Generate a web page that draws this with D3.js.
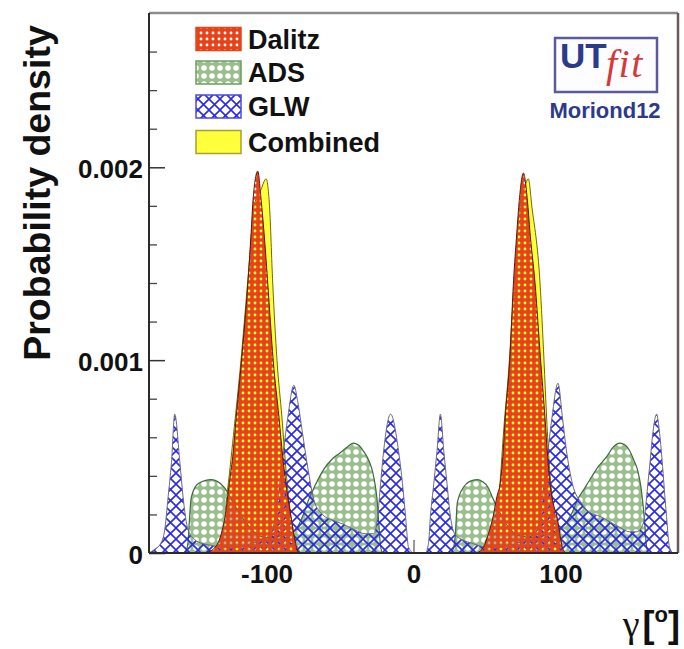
<!DOCTYPE html>
<html><head><meta charset="utf-8">
<script src="https://cdn.jsdelivr.net/npm/d3@7"></script>
<style>
html,body{margin:0;padding:0;background:#fff;}
svg{display:block;}
</style></head><body>
<svg id="chart" width="684" height="649"></svg>
<script>
// ---------------- data ----------------
const seriesNames = ["Dalitz", "ADS", "GLW", "Combined"];

const combined = [
  [-137,0],[-131,0.00008],[-126.5,0.00033],[-122,0.00065],[-118,0.00095],[-114,0.0013],
  [-111.3,0.00155],[-108.5,0.0018],[-104,0.00188],[-100.3,0.00194],[-98,0.0018],[-95.8,0.0014],
  [-92.9,0.001],[-89.5,0.0007],[-87,0.00045],[-84,0.00022],[-80,0.00006],[-76,0],
  [44,0],[50,0.00008],[54.5,0.00017],[58.5,0.00033],[61.5,0.00065],[64.8,0.00095],[67.7,0.0013],
  [70,0.00155],[72.3,0.0018],[75,0.00188],[78.2,0.00194],[80.5,0.0018],[86.1,0.0014],[88.8,0.001],
  [90.6,0.0007],[92.5,0.00045],[95.5,0.00022],[99,0.00006],[103,0]
];

const dalitz = [
  [-142,0],[-136.3,0.00002],[-130.8,0.0001],[-128,0.0002],[-125.4,0.00036],[-123,0.0005],
  [-120.7,0.0007],[-117,0.001],[-112.7,0.0014],[-110.5,0.00166],[-109.2,0.00183],[-106,0.00198],
  [-103.7,0.00183],[-101.7,0.00166],[-99.2,0.0014],[-95.5,0.001],[-91.5,0.0007],[-89,0.0005],
  [-86.8,0.00036],[-83.4,0.00019],[-80.5,0.00006],[-78,0],
  [42,0],[46.8,0.00002],[51,0.0001],[54.2,0.00019],[57,0.0003],[59,0.00036],[60.8,0.0005],
  [62.4,0.0007],[65.5,0.001],[68,0.0014],[70.3,0.00166],[72,0.00183],[74.8,0.00197],
  [77.5,0.00183],[79.3,0.00166],[82.7,0.0014],[86.5,0.001],[89.5,0.0007],[91.3,0.0005],
  [92.9,0.00036],[95,0.00026],[97.6,0.00019],[100,0.00008],[101.7,0.00002],[104,0]
];

const ads = [
  [-180,0],[-157,0],[-155,0.00001],[-153.5,0.00005],[-152.5,0.00017],[-151.2,0.00029],
  [-146.4,0.00036],[-137.6,0.00038],[-128.8,0.00034],[-124,0.00028],[-118,0.0002],[-110,0.00012],
  [-100,0.00008],[-90,0.00009],[-82,0.00011],[-78.6,0.00014],[-75,0.0002],[-72.2,0.00026],
  [-67,0.00035],[-61.4,0.00043],[-55,0.00049],[-49.8,0.00052],[-45,0.00055],[-41,0.00057],
  [-37.5,0.00056],[-34.2,0.00053],[-31,0.00049],[-28.1,0.00043],[-26,0.00035],[-24.7,0.00027],
  [-23.6,0.00015],[-22.5,0.00004],[-21,0],
  [25,0],[27,0.00002],[28.5,0.0001],[29.8,0.00026],[33.9,0.00034],[38,0.00037],[43.4,0.00038],
  [47,0.00037],[50.8,0.00034],[53.6,0.00029],[58,0.00022],[64,0.00014],[72,0.00009],[82,0.00008],
  [92,0.0001],[100,0.00013],[104,0.00016],[108,0.00021],[111.2,0.00027],[116,0.00033],
  [120,0.00038],[126,0.00045],[131.5,0.0005],[136,0.00055],[140.3,0.00057],[144,0.00056],
  [147.1,0.00053],[150,0.00048],[152.5,0.00043],[155,0.00033],[155.9,0.00027],[157.3,0.00016],
  [158.5,0.00004],[160,0],[180,0]
];

const glw = [
  [-180,0],[-176,0.00002],[-172,0.00005],[-169.3,0.00012],[-167,0.00029],[-164.7,0.00047],
  [-162.5,0.00072],[-159,0.00047],[-156.8,0.00029],[-153.4,0.00012],[-149,0.00007],[-144,0.00005],
  [-138,0.00004],[-130,0.00003],[-120,0.00003],[-110,0.00005],[-100,0.00008],[-96,0.00012],
  [-92,0.0003],[-88.5,0.00053],[-85.6,0.0007],[-81.4,0.00087],[-78.9,0.00079],[-75.5,0.00062],
  [-72.1,0.00045],[-67.6,0.00027],[-62,0.0002],[-55,0.00017],[-48,0.00015],[-40,0.00012],
  [-33,0.0001],[-27,0.0001],[-24.4,0.00019],[-22.4,0.00036],[-20.3,0.00053],[-15.6,0.00072],
  [-10.2,0.00053],[-7.5,0.00036],[-5.4,0.00019],[-3.4,0.00003],[0,0],
  [8,0],[10.2,0.00005],[11.5,0.00019],[13.8,0.00036],[16,0.00053],[18.3,0.00072],[20.6,0.00053],
  [22.8,0.00036],[25.1,0.00019],[28,0.0001],[33,0.00007],[40,0.00005],[50,0.00003],[60,0.00003],
  [70,0.00005],[78,0.00008],[84,0.00012],[88,0.0003],[91.5,0.00053],[94.2,0.0007],[98.3,0.00088],
  [101.4,0.0007],[104.1,0.00053],[108.1,0.00036],[114.2,0.00026],[120,0.00021],[127,0.00019],
  [134,0.00016],[141,0.00013],[147,0.00011],[152,0.00011],[155,0.00013],[157.3,0.00019],
  [159,0.00032],[160.7,0.00045],[163,0.00063],[165.4,0.00072],[167.5,0.00062],[169.5,0.00045],
  [171,0.0003],[172.2,0.00019],[174.2,0.00003],[177,0],[180,0]
];

const yTickValues = [0, 0.001, 0.002];
const yTickLabels = ["0", "0.001", "0.002"];
const yMinorTicks = [0.0002,0.0004,0.0006,0.0008,0.0012,0.0014,0.0016,0.0018,0.0022,0.0024,0.0026];
const xTickValues = [-100, 0, 100];
const xTickLabels = ["-100", "0", "100"];
const yTitle = "Probability density";
const logoText = ["UT", "fit", "Moriond12"];

// ---------------- chart ----------------
const svg = d3.select("#chart");
const L = 149, R = 678, T = 13, B = 553;
const x = d3.scaleLinear().domain([-180, 180]).range([L, R]);
const y = d3.scaleLinear().domain([0, 0.0028]).range([B, T]);
const FONT = "'Liberation Sans', Arial, Helvetica, sans-serif";

const defs = svg.append("defs");
defs.append("clipPath").attr("id", "plotclip")
  .append("rect").attr("x", L).attr("y", T).attr("width", R - L).attr("height", B - T);

// Dalitz: red-orange with round holes
const pD = defs.append("pattern").attr("id", "patDalitz").attr("patternUnits", "userSpaceOnUse")
  .attr("width", 6).attr("height", 6);
pD.append("path").attr("fill-rule", "evenodd").attr("fill", "#e5441a")
  .attr("d", "M0 0H6V6H0Z M3 1.6 A1.4 1.4 0 1 0 3 4.4 A1.4 1.4 0 1 0 3 1.6Z");
// ADS: light green with larger holes
const pA = defs.append("pattern").attr("id", "patADS").attr("patternUnits", "userSpaceOnUse")
  .attr("width", 8).attr("height", 8);
pA.append("path").attr("fill-rule", "evenodd").attr("fill", "#98bf8c")
  .attr("d", "M0 0H8V8H0Z M4 1.2 A2.8 2.8 0 1 0 4 6.8 A2.8 2.8 0 1 0 4 1.2Z");
// GLW: blue diagonal crosshatch
const pG = defs.append("pattern").attr("id", "patGLW").attr("patternUnits", "userSpaceOnUse")
  .attr("width", 11).attr("height", 11);
pG.append("path").attr("stroke", "#2a2ae6").attr("stroke-width", 1.6).attr("fill", "none")
  .attr("d", "M-1 -1L12 12M12 -1L-1 12");

// x ticks (under fills)
const xAxis = d3.axisBottom(x).tickValues(xTickValues)
  .tickFormat((d, i) => xTickLabels[i]).tickSizeInner(-13).tickSizeOuter(0).tickPadding(12);
const gx = svg.append("g").attr("transform", `translate(0,${B})`).call(xAxis);
gx.select(".domain").remove();
gx.selectAll(".tick line").attr("stroke", "#9a9a9a").attr("stroke-width", 2);
gx.selectAll("text").attr("font-family", FONT).attr("font-weight", "bold")
  .attr("font-size", 26).attr("fill", "#111");

const area = d3.area().x(d => x(d[0])).y0(y(0)).y1(d => y(d[1])).curve(d3.curveMonotoneX);
const line = d3.line().x(d => x(d[0])).y(d => y(d[1])).curve(d3.curveMonotoneX);

const plot = svg.append("g").attr("clip-path", "url(#plotclip)");
const layers = [
  {data: combined, fill: "#ffff3c", stroke: "#6f6a00", sw: 1},
  {data: ads, fill: "url(#patADS)", stroke: "#3d6b3a", sw: 1.2},
  {data: glw, fill: "url(#patGLW)", stroke: "#6a6a7a", sw: 1},
  {data: dalitz, fill: "url(#patDalitz)", stroke: "#5a1808", sw: 1}
];
layers.forEach(l => {
  plot.append("path").datum(l.data).attr("d", area).attr("fill", l.fill);
  plot.append("path").datum(l.data).attr("d", line).attr("fill", "none")
    .attr("stroke", l.stroke).attr("stroke-width", l.sw);
});

// y axis
const yAxis = d3.axisLeft(y).tickValues(yTickValues)
  .tickFormat((d, i) => yTickLabels[i]).tickSizeInner(-16).tickSizeOuter(0).tickPadding(6);
const gy = svg.append("g").attr("transform", `translate(${L},0)`).call(yAxis);
gy.select(".domain").remove();
gy.selectAll(".tick line").attr("stroke", "#333").attr("stroke-width", 1.5);
gy.selectAll("text").attr("font-family", FONT).attr("font-weight", "bold")
  .attr("font-size", 26).attr("fill", "#111").attr("dy", "0.4em");
const yMinor = d3.axisLeft(y).tickValues(yMinorTicks).tickFormat("").tickSizeInner(-8).tickSizeOuter(0);
const gym = svg.append("g").attr("transform", `translate(${L},0)`).call(yMinor);
gym.select(".domain").remove();
gym.selectAll(".tick line").attr("stroke", "#444").attr("stroke-width", 1.3);

// frame
svg.append("line").attr("x1", L).attr("x2", R).attr("y1", T).attr("y2", T).attr("stroke", "#8c8c8c").attr("stroke-width", 2.5);
svg.append("line").attr("x1", R).attr("x2", R).attr("y1", T).attr("y2", B).attr("stroke", "#6e5a5a").attr("stroke-width", 2.5);
svg.append("line").attr("x1", L).attr("x2", R).attr("y1", B).attr("y2", B).attr("stroke", "#2a2a2a").attr("stroke-width", 2);
svg.append("line").attr("x1", L).attr("x2", L).attr("y1", T).attr("y2", B).attr("stroke", "#2a2a2a").attr("stroke-width", 2);

// y title
svg.append("text").attr("transform", `translate(50,${(T + 357) / 2 + 8}) rotate(-90)`)
  .attr("text-anchor", "middle").attr("font-family", FONT).attr("font-weight", "bold")
  .attr("font-size", 37.5).attr("fill", "#111").text(yTitle);

// x title  γ[°]
const xt = svg.append("text").attr("x", 680).attr("y", 637).attr("text-anchor", "end")
  .attr("fill", "#111");
xt.append("tspan").attr("font-family", "'Liberation Serif', 'DejaVu Serif', serif").attr("font-size", 38).text("γ");
xt.append("tspan").attr("font-family", FONT).attr("font-weight", "bold").attr("font-size", 36).attr("dx", 3).text("[");
xt.append("tspan").attr("font-family", FONT).attr("font-weight", "bold").attr("font-size", 22).attr("dy", -15).text("o");
xt.append("tspan").attr("font-family", FONT).attr("font-weight", "bold").attr("font-size", 36).attr("dy", 15).text("]");

// legend
const legFills = ["url(#patDalitz)", "url(#patADS)", "url(#patGLW)", "#ffff3c"];
const legStrokes = ["#e5441a", "#6f9a66", "#4a4ae0", "#a8a030"];
const legY = [39, 72.5, 106.5, 142];
const leg = svg.append("g");
seriesNames.forEach((n, i) => {
  leg.append("rect").attr("x", 196).attr("y", legY[i] - 11.5).attr("width", 45).attr("height", 23)
    .attr("fill", "#fff");
  leg.append("rect").attr("x", 196).attr("y", legY[i] - 11.5).attr("width", 45).attr("height", 23)
    .attr("fill", legFills[i]).attr("stroke", legStrokes[i]).attr("stroke-width", 1.5);
  leg.append("text").attr("x", 248).attr("y", legY[i] + 9.5).attr("font-family", FONT)
    .attr("font-weight", "bold").attr("font-size", 27).attr("fill", "#111").text(n);
});

// logo
const logo = svg.append("g");
logo.append("rect").attr("x", 555).attr("y", 38).attr("width", 102).attr("height", 54)
  .attr("fill", "#fdfcff").attr("stroke", "#5a5a9c").attr("stroke-width", 2.5);
logo.append("text").attr("x", 560).attr("y", 68).attr("font-family", FONT).attr("font-weight", "bold")
  .attr("font-size", 35).attr("fill", "#2c3a8a").text(logoText[0]);
logo.append("text").attr("x", 606).attr("y", 77).attr("font-family", "'Liberation Serif', 'DejaVu Serif', serif")
  .attr("font-style", "italic").attr("font-size", 40).attr("letter-spacing", 1.5)
  .attr("fill", "#d43a3a").text(logoText[1]);
logo.append("text").attr("x", 605).attr("y", 118).attr("text-anchor", "middle").attr("font-family", FONT)
  .attr("font-weight", "bold").attr("font-size", 22).attr("fill", "#2c3a8a").text(logoText[2]);
</script>
</body></html>
